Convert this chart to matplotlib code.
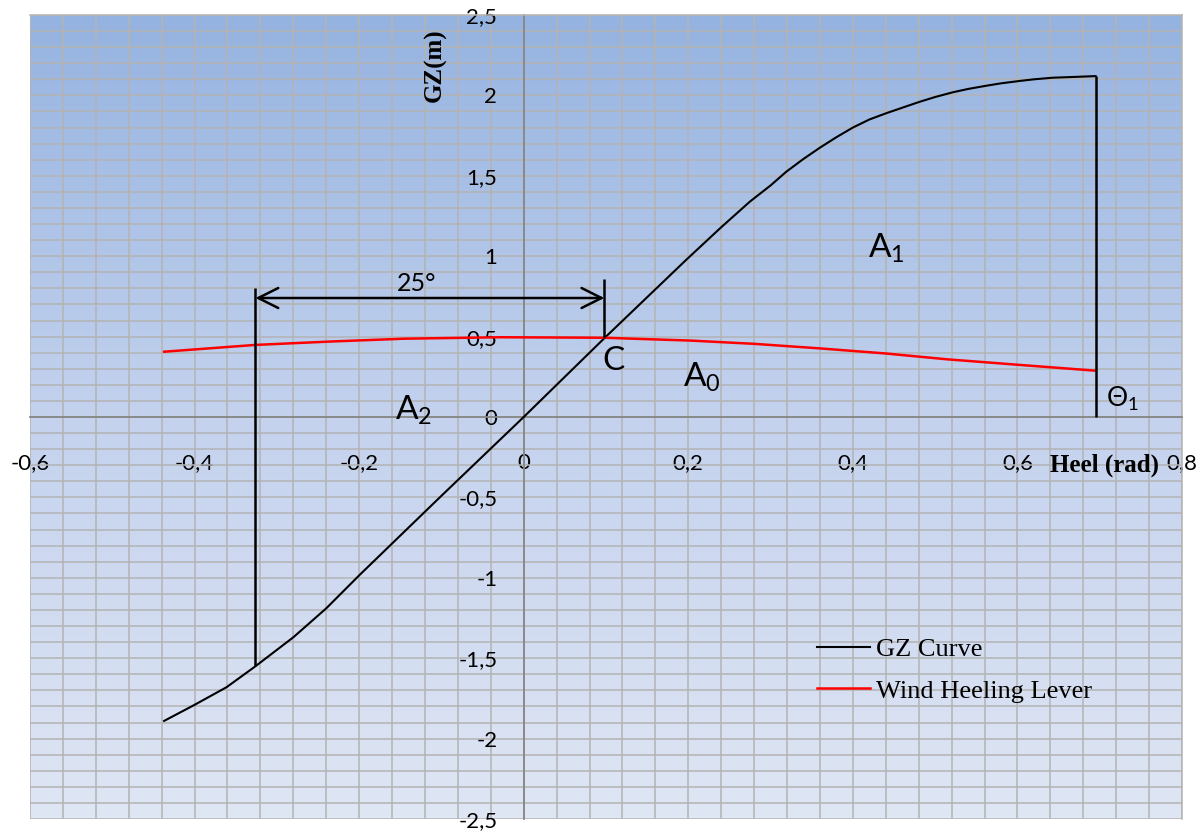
import numpy as np
import matplotlib.pyplot as plt
from matplotlib.ticker import MultipleLocator, FuncFormatter
from matplotlib.colors import LinearSegmentedColormap

# GZ curve (heel in rad, lever in m)
gz_x = [-0.437, -0.40, -0.361, -0.326, -0.28, -0.24, -0.199, -0.1, 0.0, 0.1,
        0.198, 0.24, 0.275, 0.30, 0.319, 0.34, 0.36, 0.38, 0.40, 0.42, 0.441,
        0.461, 0.481, 0.50, 0.522, 0.54, 0.562, 0.58, 0.603, 0.62, 0.643, 0.67, 0.695]
gz_y = [-1.89, -1.79, -1.68, -1.55, -1.37, -1.19, -0.98, -0.49, 0.0, 0.5,
        0.98, 1.18, 1.34, 1.44, 1.525, 1.605, 1.675, 1.74, 1.80, 1.85, 1.89,
        1.925, 1.96, 1.99, 2.02, 2.04, 2.06, 2.075, 2.09, 2.10, 2.11, 2.115, 2.12]

# wind heeling lever
wind_x = [-0.437, -0.327, -0.232, -0.145, -0.028, 0.097, 0.204, 0.28, 0.359, 0.44, 0.514, 0.60, 0.695]
wind_y = [0.406, 0.448, 0.470, 0.487, 0.496, 0.493, 0.475, 0.455, 0.427, 0.395, 0.359, 0.325, 0.288]

# roll-back angle, equilibrium point C and theta 1
roll_x, roll_top = -0.326, 0.80
c_x, c_y, c_top = 0.098, 0.49, 0.86
theta1_x = 0.695
arrow_y = 0.74

xlim = (-0.6, 0.8)
ylim = (-2.5, 2.5)

fig = plt.figure(figsize=(12.02, 8.32), dpi=100)
ax = fig.add_axes([30/1202, 1 - 819/832, 1152/1202, 804/832])

# background gradient
cmap = LinearSegmentedColormap.from_list('bg', ['#dfe6f4', '#c4d2ee', '#95b3e0'])
grad = np.linspace(0, 1, 256).reshape(-1, 1)
ax.imshow(grad, cmap=cmap, origin='lower', aspect='auto',
          extent=[xlim[0], xlim[1], ylim[0], ylim[1]], zorder=0)

ax.set_xlim(xlim)
ax.set_ylim(ylim)

ax.xaxis.set_major_locator(MultipleLocator(0.2))
ax.xaxis.set_minor_locator(MultipleLocator(0.04))
ax.yaxis.set_major_locator(MultipleLocator(0.5))
ax.yaxis.set_minor_locator(MultipleLocator(0.1))
ax.grid(which='both', color='#b3b3b3', lw=1.1, zorder=0.5)
ax.set_axisbelow(True)

fmt = FuncFormatter(lambda v, p: ('%g' % round(v, 2)).replace('.', ','))
ax.xaxis.set_major_formatter(fmt)
ax.yaxis.set_major_formatter(fmt)
ax.tick_params(which='both', length=0, labelsize=16, labelfontfamily='Lato')
ax.tick_params(axis='x', pad=26)
ax.tick_params(axis='y', pad=19)

# axes through origin
for s in ['left', 'bottom']:
    ax.spines[s].set_position('zero')
    ax.spines[s].set_color('#868686')
    ax.spines[s].set_linewidth(1.3)
for s in ['top', 'right']:
    ax.spines[s].set_color('#b3b3b3')
    ax.spines[s].set_linewidth(1.1)

ax.plot(gz_x, gz_y, color='black', lw=1.5, label='GZ Curve', zorder=3)
ax.plot(wind_x, wind_y, color='red', lw=1.8, label='Wind Heeling Lever', zorder=3)

ax.vlines([roll_x], [gz_y[3]], [roll_top], color='black', lw=1.8, zorder=3)
ax.vlines([c_x], [c_y], [c_top], color='black', lw=1.8, zorder=3)
ax.vlines([theta1_x], [0], [gz_y[-1]], color='black', lw=1.8, zorder=3)

ax.annotate('', xy=(roll_x, arrow_y), xytext=(c_x, arrow_y),
            arrowprops=dict(arrowstyle='<->,head_length=0.72,head_width=0.36',
                            lw=1.8, color='black', shrinkA=0, shrinkB=0,
                            mutation_scale=20), zorder=4)

sans = 'Lato'
ax.text(-0.130, 0.833, '25°', fontsize=18, family=sans, ha='center', va='center')
ax.text(0.096, 0.292, 'C', fontsize=24, family=sans, ha='left', va='baseline')
ax.text(0.193, 0.187, r'A$\mathregular{_0}$', fontsize=24, family=sans, ha='left', va='baseline')
ax.text(0.419, 0.989, r'A$\mathregular{_1}$', fontsize=24, family=sans, ha='left', va='baseline')
ax.text(-0.157, -0.019, r'A$\mathregular{_2}$', fontsize=24, family=sans, ha='left', va='baseline')
ax.text(0.708, 0.062, r'Θ$\mathregular{_1}$', fontsize=19, family=sans, ha='left', va='baseline')

# axis titles
ax.text(-0.107, 2.19, 'GZ(m)', fontsize=18, family='Liberation Serif', weight='bold',
        rotation=90, ha='center', va='center')
ax.text(0.706, -0.30, 'Heel (rad)', fontsize=18, family='Liberation Serif', weight='bold',
        ha='center', va='center')

ax.legend(loc='center left', bbox_to_anchor=(817/1202, 1 - 670/832),
          bbox_transform=fig.transFigure, frameon=False, borderpad=0, borderaxespad=0,
          handlelength=2.0, handletextpad=0.25, labelspacing=0.7,
          prop={'family': 'Liberation Serif', 'size': 19})

fig.savefig('out.png', dpi=100)
